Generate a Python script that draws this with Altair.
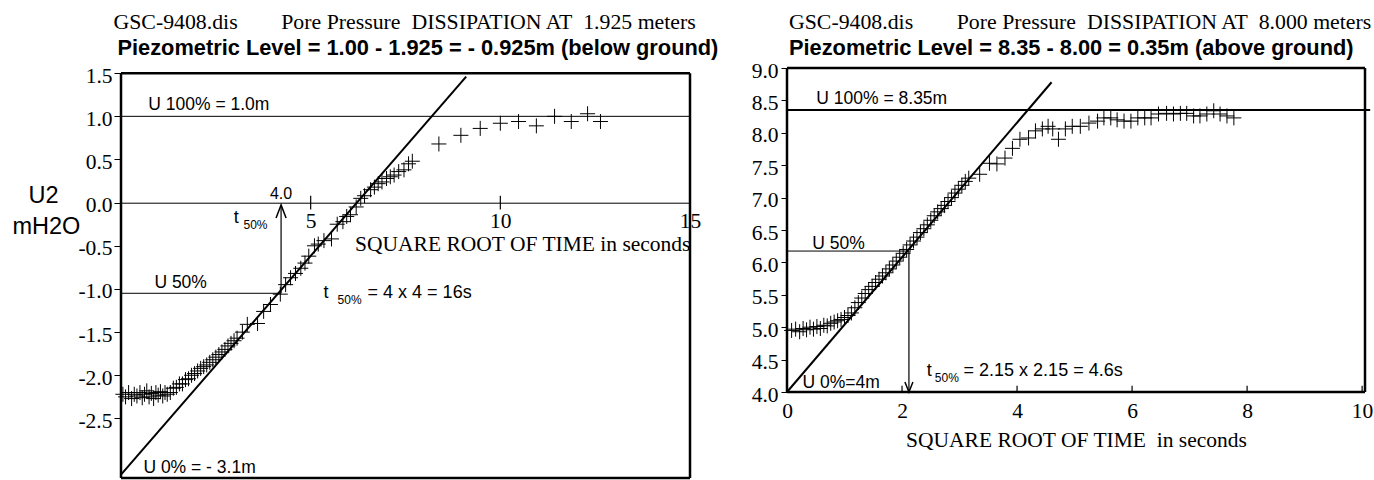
import altair as alt
import pandas as pd

SERIF = "Liberation Serif"
SANS = "Liberation Sans"
CROSS = "M-1,0L1,0M0,-1L0,1"
TICKFS = 21.5
TITLEFS = 21.8

# ---------------- LEFT PANEL (1.925 m) ----------------
l_x = [0.05, 0.12, 0.2, 0.28, 0.35, 0.42, 0.5, 0.56, 0.62, 0.68, 0.74, 0.8, 0.86, 0.92, 0.98,
       1.04, 1.1, 1.16, 1.22, 1.3, 1.38, 1.46, 1.54, 1.62, 1.7, 1.78, 1.86, 1.94, 2.02, 2.1,
       2.18, 2.26, 2.34, 2.42, 2.5, 2.58, 2.66, 2.74, 2.82, 2.9, 2.98, 3.06, 3.2, 3.33, 3.6,
       3.76, 3.94, 4.2, 4.34, 4.47, 4.6, 4.74, 4.85, 4.95, 5.1, 5.2, 5.35, 5.55, 5.7, 5.85,
       5.95, 6.05, 6.2, 6.32, 6.42, 6.58, 6.68, 6.78, 6.88, 7.0, 7.1, 7.2, 7.32, 7.46, 7.58,
       7.68, 8.38, 8.96, 9.47, 10.0, 10.48, 10.95, 11.43, 11.87, 12.3, 12.64]
l_y = [-2.22, -2.25, -2.2, -2.27, -2.22, -2.24, -2.2, -2.26, -2.22, -2.18, -2.25, -2.21, -2.27, -2.2, -2.23,
       -2.19, -2.24, -2.2, -2.22, -2.2, -2.15, -2.14, -2.1, -2.1, -2.05, -2.04, -2.0, -1.98, -1.95, -1.92,
       -1.9, -1.88, -1.85, -1.82, -1.79, -1.76, -1.73, -1.7, -1.66, -1.63, -1.6, -1.57, -1.5, -1.41, -1.4,
       -1.26, -1.18, -1.06, -0.95, -0.87, -0.82, -0.76, -0.7, -0.62, -0.5, -0.48, -0.44, -0.42, -0.25, -0.22,
       -0.16, -0.14, -0.05, 0.05, 0.08, 0.15, 0.18, 0.22, 0.24, 0.28, 0.3, 0.32, 0.36, 0.38, 0.45,
       0.48, 0.68, 0.78, 0.86, 0.92, 0.94, 0.89, 1.0, 0.94, 1.03, 0.94]
l_fit_x = [0.0, 9.1]
l_fit_y = [-3.15, 1.46]
l_u100, l_u50, l_t50 = 1.0, -1.05, 4.22
l_xdom, l_ydom = [0, 15], [-3.19, 1.56]
l_top, l_bottom = 1.5, -3.19
l_xticks = [5, 10, 15]
l_yticks = [-2.5, -2.0, -1.5, -1.0, -0.5, 0.0, 0.5, 1.0, 1.5]
l_lab_text = ["U 100% = 1.0m", "U 50%", "U 0% = - 3.1m"]
l_lab_x = [0.72, 0.88, 0.59]
l_lab_y = [1.07, -0.99, -3.13]
l_t_x, l_t_y = [2.97, 5.34], [-0.235, -1.11]
l_sub_x, l_sub_y = [3.23, 5.71], [-0.305, -1.17]
l_eq_text, l_eq_x, l_eq_y = ["= 4 x 4 = 16s"], [6.5], [-1.11]
l_four_text, l_four_x, l_four_y = ["4.0"], [4.22], [0.043]
l_title1 = "GSC-9408.dis" + "\u00a0" * 8 + "Pore Pressure" + "\u00a0" * 2 + "DISSIPATION AT" + "\u00a0" * 2 + "1.925 meters"
l_title2 = "Piezometric Level = 1.00 - 1.925 = - 0.925m (below ground)"

# ---------------- RIGHT PANEL (8.000 m) ----------------
r_x = [0.08, 0.15, 0.22, 0.28, 0.34, 0.4, 0.46, 0.52, 0.58, 0.64, 0.7, 0.76, 0.82, 0.88, 0.94,
       1.0, 1.06, 1.12, 1.18, 1.24, 1.3, 1.36, 1.42, 1.48, 1.54, 1.6, 1.66, 1.72, 1.78, 1.84,
       1.9, 1.96, 2.02, 2.08, 2.14, 2.2, 2.26, 2.32, 2.38, 2.44, 2.5, 2.56, 2.62, 2.68, 2.74,
       2.8, 2.86, 2.92, 2.98, 3.04, 3.1, 3.16, 3.35, 3.52, 3.65, 3.79, 3.92, 4.05, 4.2, 4.32,
       4.44, 4.54, 4.62, 4.72, 4.84, 4.96, 5.1, 5.25, 5.4, 5.51, 5.63, 5.74, 5.86, 5.98, 6.1,
       6.22, 6.33, 6.46, 6.6, 6.72, 6.84, 6.95, 7.07, 7.18, 7.3, 7.42, 7.53, 7.65, 7.77]
r_y = [4.95, 4.97, 4.93, 4.98, 4.96, 5.0, 4.97, 5.01, 4.98, 5.03, 5.02, 5.06, 5.08, 5.1, 5.12,
       5.15, 5.18, 5.22, 5.3, 5.38, 5.45, 5.52, 5.58, 5.63, 5.69, 5.74, 5.79, 5.84, 5.9, 5.96,
       6.02, 6.08, 6.14, 6.2, 6.27, 6.33, 6.39, 6.46, 6.52, 6.58, 6.65, 6.72, 6.78, 6.83, 6.88,
       6.94, 7.0, 7.07, 7.13, 7.19, 7.25, 7.3, 7.36, 7.53, 7.52, 7.61, 7.76, 7.9, 7.92, 8.03,
       8.06, 8.1, 8.06, 7.9, 8.06, 8.1, 8.1, 8.15, 8.18, 8.23, 8.23, 8.2, 8.18, 8.18, 8.23,
       8.23, 8.23, 8.29, 8.3, 8.29, 8.3, 8.3, 8.26, 8.26, 8.29, 8.34, 8.29, 8.26, 8.23]
r_fit_x = [0.0, 4.6]
r_fit_y = [4.0, 8.78]
r_u100, r_u50, r_t50 = 8.35, 6.175, 2.12
r_xdom, r_ydom = [0, 10.05], [4.0, 9.0]
r_xticks = [0, 2, 4, 6, 8, 10]
r_yticks = [4.0, 4.5, 5.0, 5.5, 6.0, 6.5, 7.0, 7.5, 8.0, 8.5, 9.0]
r_lab_text = ["U 100% = 8.35m", "U 50%", "U 0%=4m"]
r_lab_x = [0.51, 0.44, 0.27]
r_lab_y = [8.44, 6.21, 4.06]
r_t_x, r_t_y = [2.43], [4.25]
r_sub_x, r_sub_y = [2.57], [4.15]
r_eq_text, r_eq_x, r_eq_y = ["= 2.15 x 2.15 = 4.6s"], [3.07], [4.25]
r_title1 = "GSC-9408.dis" + "\u00a0" * 8 + "Pore Pressure" + "\u00a0" * 2 + "DISSIPATION AT" + "\u00a0" * 2 + "8.000 meters"
r_title2 = "Piezometric Level = 8.35 - 8.00 = 0.35m (above ground)"

NEG = "(datum.value < 0 ? '-' : '') + format(abs(datum.value), '.1f')"


def build(px, py, fx, fy, u100, u100_x2, u100_w, u50, t50, arrow_tip, head_y, head_path, head_size,
          xdom, ydom, top, bottom, xaxis, yaxis, xtick_vals, xtick_lo, xtick_hi,
          lab_text, lab_x, lab_y, t_x, t_y, sub_x, sub_y, eq_text, eq_x, eq_y,
          title1, title2, tx, w, h, extra=None):
    X = alt.X("x:Q", scale=alt.Scale(domain=xdom, nice=False, zero=False), axis=xaxis)
    Y = alt.Y("y:Q", scale=alt.Scale(domain=ydom, nice=False, zero=False), axis=yaxis)

    pts = alt.Chart(pd.DataFrame({"x": px, "y": py})).mark_point(
        shape=CROSS, filled=False, color="black", strokeWidth=1, size=225, opacity=1
    ).encode(x=X, y=Y)

    fit = alt.Chart(pd.DataFrame({"x": fx, "y": fy})).mark_line(
        color="black", strokeWidth=2).encode(x=X, y=Y)

    hr = pd.DataFrame({"x": [xdom[0], xdom[0]], "x2": [u100_x2, t50], "y": [u100, u50],
                       "w": [u100_w, 1.0]})
    hrules = alt.Chart(hr).mark_rule(color="black").encode(
        x=X, x2="x2:Q", y=Y, strokeWidth=alt.StrokeWidth("w:Q", scale=None))

    arrow = alt.Chart(pd.DataFrame({"x": [t50], "y": [u50], "y2": [arrow_tip]})).mark_rule(
        color="black", strokeWidth=1.2).encode(x=X, y=Y, y2="y2:Q")
    head = alt.Chart(pd.DataFrame({"x": [t50], "y": [head_y]})).mark_point(
        shape=head_path, filled=False, color="black", strokeWidth=1.5, size=head_size, opacity=1
    ).encode(x=X, y=Y)

    bx = pd.DataFrame({"x": [xdom[0], xdom[0]], "x2": [xdom[1], xdom[1]], "y": [top, bottom]})
    bh = alt.Chart(bx).mark_rule(color="black", strokeWidth=2.5).encode(x=X, x2="x2:Q", y=Y)
    by = pd.DataFrame({"x": [xdom[0], xdom[1]], "y": [bottom, bottom], "y2": [top, top]})
    bv = alt.Chart(by).mark_rule(color="black", strokeWidth=2.5).encode(x=X, y=Y, y2="y2:Q")

    tk = pd.DataFrame({"x": xtick_vals, "y": [xtick_lo] * len(xtick_vals),
                       "y2": [xtick_hi] * len(xtick_vals)})
    ticks = alt.Chart(tk).mark_rule(color="black", strokeWidth=1.2).encode(x=X, y=Y, y2="y2:Q")

    labs = alt.Chart(pd.DataFrame({"x": lab_x, "y": lab_y, "t": lab_text})).mark_text(
        font=SANS, fontSize=17.5, align="left", baseline="alphabetic", color="black"
    ).encode(x=X, y=Y, text="t:N")
    tt = alt.Chart(pd.DataFrame({"x": t_x, "y": t_y, "t": ["t"] * len(t_x)})).mark_text(
        font=SANS, fontSize=18, align="left", baseline="alphabetic", color="black"
    ).encode(x=X, y=Y, text="t:N")
    sub = alt.Chart(pd.DataFrame({"x": sub_x, "y": sub_y, "t": ["50%"] * len(sub_x)})).mark_text(
        font=SANS, fontSize=12, align="left", baseline="alphabetic", color="black"
    ).encode(x=X, y=Y, text="t:N")
    eq = alt.Chart(pd.DataFrame({"x": eq_x, "y": eq_y, "t": eq_text})).mark_text(
        font=SANS, fontSize=18, align="left", baseline="alphabetic", color="black"
    ).encode(x=X, y=Y, text="t:N")

    t1 = alt.Chart(pd.DataFrame({"t": [title1]})).mark_text(
        font=SERIF, fontSize=TITLEFS, align="left", baseline="alphabetic", color="black"
    ).encode(x=alt.value(tx[0]), y=alt.value(-39), text="t:N")
    t2 = alt.Chart(pd.DataFrame({"t": [title2]})).mark_text(
        font=SANS, fontSize=TITLEFS, fontWeight="bold", align="left", baseline="alphabetic", color="black"
    ).encode(x=alt.value(tx[1]), y=alt.value(-13), text="t:N")

    layers = [pts, fit, hrules, arrow, head, bh, bv, ticks, labs, tt, sub, eq, t1, t2]
    if extra is not None:
        layers += extra(X, Y)
    return alt.layer(*layers).properties(width=w, height=h)


l_xaxis = alt.Axis(values=l_xticks, format="d", title="SQUARE ROOT OF TIME in seconds",
                   titleFont=SERIF, titleFontSize=TICKFS, titleFontWeight="normal", titleColor="black",
                   titleAnchor="end", titleAlign="right", titlePadding=1,
                   labelFont=SERIF, labelFontSize=TICKFS, labelColor="black", labelPadding=8,
                   labelFlush=False, labelOverlap=False, ticks=False,
                   domain=True, domainColor="black", domainWidth=1, grid=False, offset=-275.3)
l_yaxis = alt.Axis(values=l_yticks, labelExpr=NEG, title=None, labelFont=SERIF, labelFontSize=TICKFS,
                   labelColor="black", tickSize=7, tickColor="black", tickWidth=1, labelPadding=2,
                   labelOffset=3, domain=False, grid=False, labelOverlap=False)

r_xaxis = alt.Axis(values=r_xticks, format="d", title="SQUARE ROOT OF TIME\u00a0\u00a0in seconds",
                   titleFont=SERIF, titleFontSize=TICKFS, titleFontWeight="normal", titleColor="black",
                   titlePadding=8, labelFont=SERIF, labelFontSize=TICKFS, labelColor="black",
                   labelPadding=8, labelFlush=False, labelOverlap=False, ticks=False,
                   domain=False, grid=False)
r_yaxis = alt.Axis(values=r_yticks, labelExpr=NEG, title=None, labelFont=SERIF, labelFontSize=TICKFS,
                   labelColor="black", tickSize=6, tickColor="black", tickWidth=1, labelPadding=3,
                   labelOffset=3, domain=False, grid=False, labelOverlap=False)


def left_extra(X, Y):
    u2 = alt.Chart(pd.DataFrame({"t": ["U2"]})).mark_text(
        font=SANS, fontSize=23.5, align="left", baseline="alphabetic", color="black"
    ).encode(x=alt.value(-92.5), y=alt.value(135), text="t:N")
    mh = alt.Chart(pd.DataFrame({"t": ["mH2O"]})).mark_text(
        font=SANS, fontSize=23.5, align="left", baseline="alphabetic", color="black"
    ).encode(x=alt.value(-108.5), y=alt.value(166), text="t:N")
    four = alt.Chart(pd.DataFrame({"x": l_four_x, "y": l_four_y, "t": l_four_text})).mark_text(
        font=SANS, fontSize=16, align="center", baseline="alphabetic", color="black"
    ).encode(x=X, y=Y, text="t:N")
    return [u2, mh, four]


left = build(l_x, l_y, l_fit_x, l_fit_y, l_u100, l_xdom[1], 1.0, l_u50, l_t50, -0.035, -0.102,
             "M-0.77,1L0,-1L0.77,1", 169, l_xdom, l_ydom, l_top, l_bottom, l_xaxis, l_yaxis,
             l_xticks, -0.08, 0.08, l_lab_text, l_lab_x, l_lab_y, l_t_x, l_t_y, l_sub_x, l_sub_y,
             l_eq_text, l_eq_x, l_eq_y, l_title1, l_title2, (-7.5, -3.5), 569, 410, extra=left_extra)

right = build(r_x, r_y, r_fit_x, r_fit_y, r_u100, 10.14, 2.0, r_u50, r_t50, 4.0, 4.077,
              "M-0.8,-1L0,1L0.8,-1", 100, r_xdom, r_ydom, 9.0, 4.0, r_xaxis, r_yaxis,
              r_xticks[1:], 4.0, 4.095, r_lab_text, r_lab_x, r_lab_y, r_t_x, r_t_y, r_sub_x, r_sub_y,
              r_eq_text, r_eq_x, r_eq_y, r_title1, r_title2, (2, 2), 578, 324)

chart = alt.hconcat(left, right, spacing=97, bounds="flush").properties(
    padding={"left": 12, "top": 12, "right": 0, "bottom": 0},
    background="white",
).configure_view(stroke=None)

chart.save("out.html", embed_options={"renderer": "svg", "actions": False})
